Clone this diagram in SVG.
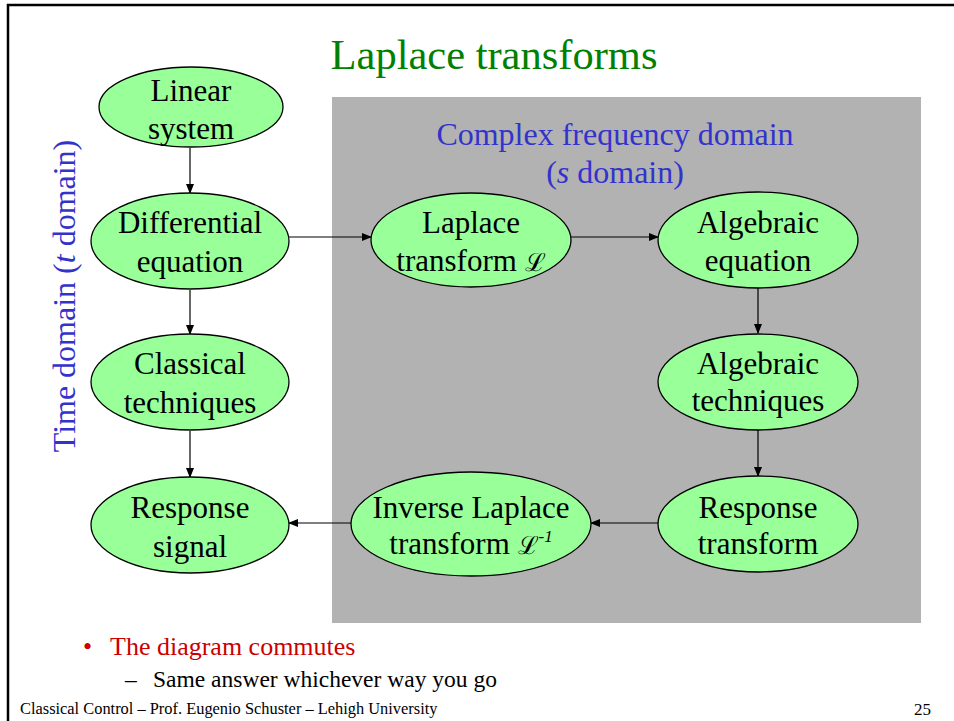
<svg xmlns="http://www.w3.org/2000/svg" width="954" height="721" viewBox="0 0 954 721">
<defs>
<marker id="ah" markerWidth="10" markerHeight="8" refX="9" refY="4" orient="auto" markerUnits="userSpaceOnUse">
<path d="M0,0 L10,4 L0,8 Z" fill="#000"/>
</marker>
<style>
.node ellipse{fill:#99FF99;stroke:#000;stroke-width:1.3}
.node text{font-family:"Liberation Serif","Times New Roman",serif;font-size:31px;fill:#000;text-anchor:middle}
.conn line{stroke:#000;stroke-width:1.2;marker-end:url(#ah)}
.blue{font-family:"Liberation Serif","Times New Roman",serif;fill:#3333CC;font-size:32px;text-anchor:middle}
.scr{font-family:"DejaVu Serif","Liberation Serif",serif;font-size:25px}
</style>
</defs>
<rect x="0" y="0" width="954" height="721" fill="#fff"/>
<path d="M8,721 V5 H954" fill="none" stroke="#000" stroke-width="2.5"/>
<text x="494" y="69" font-family="Liberation Serif,serif" font-size="42.5" fill="#008000" text-anchor="middle">Laplace transforms</text>
<rect x="332" y="97" width="589" height="526" fill="#B2B2B2"/>
<text class="blue" x="615" y="145">Complex frequency domain</text>
<text class="blue" x="615" y="183">(<tspan font-style="italic">s</tspan> domain)</text>
<text class="blue" transform="translate(75,296) rotate(-90)">Time domain (<tspan font-style="italic">t</tspan> domain)</text>
<g class="conn">
<line x1="190" y1="148" x2="190" y2="193"/>
<line x1="190" y1="290" x2="190" y2="334"/>
<line x1="190" y1="431" x2="190" y2="477"/>
<line x1="289" y1="237" x2="371" y2="237"/>
<line x1="571" y1="237" x2="658" y2="237"/>
<line x1="758" y1="288" x2="758" y2="333"/>
<line x1="758" y1="430" x2="758" y2="476"/>
<line x1="659" y1="523" x2="591" y2="523"/>
<line x1="351" y1="523" x2="289" y2="523"/>
</g>
<g id="linear" class="node"><ellipse cx="191" cy="107" rx="92" ry="40"/><text x="191" y="101">Linear</text><text x="191" y="139">system</text></g>
<g id="diffeq" class="node"><ellipse cx="190" cy="241" rx="99" ry="48"/><text x="190" y="233">Differential</text><text x="190" y="272">equation</text></g>
<g id="classical" class="node"><ellipse cx="190" cy="382" rx="99" ry="48"/><text x="190" y="374">Classical</text><text x="190" y="413">techniques</text></g>
<g id="respsignal" class="node"><ellipse cx="190" cy="525" rx="99" ry="48"/><text x="190" y="518">Response</text><text x="190" y="557">signal</text></g>
<g id="laplace" class="node"><ellipse cx="471" cy="240" rx="100" ry="47"/><text x="471" y="233">Laplace</text><text x="471" y="271">transform <tspan class="scr">ℒ</tspan></text></g>
<g id="algeq" class="node"><ellipse cx="758" cy="240" rx="100" ry="48"/><text x="758" y="233">Algebraic</text><text x="758" y="271">equation</text></g>
<g id="algtech" class="node"><ellipse cx="758" cy="382" rx="100" ry="48"/><text x="758" y="374">Algebraic</text><text x="758" y="411">techniques</text></g>
<g id="resptrans" class="node"><ellipse cx="758" cy="524" rx="100" ry="48"/><text x="758" y="518">Response</text><text x="758" y="554">transform</text></g>
<g id="inverse" class="node"><ellipse cx="471" cy="524" rx="120" ry="52"/><text x="471" y="518">Inverse Laplace</text><text x="471" y="554">transform <tspan class="scr">ℒ</tspan><tspan font-style="italic" font-size="17" dy="-12">-1</tspan></text></g>
<text x="83" y="655" font-family="Liberation Serif,serif" font-size="26" fill="#CC0000">•</text>
<text x="110" y="655" font-family="Liberation Serif,serif" font-size="26" fill="#CC0000">The diagram commutes</text>
<text x="125" y="687" font-family="Liberation Serif,serif" font-size="23.5" fill="#000">–</text>
<text x="153" y="687" font-family="Liberation Serif,serif" font-size="23.5" fill="#000">Same answer whichever way you go</text>
<text x="20" y="714" font-family="Liberation Serif,serif" font-size="16.4" fill="#000">Classical Control – Prof. Eugenio Schuster – Lehigh University</text>
<text x="931" y="715" font-family="Liberation Serif,serif" font-size="17" fill="#000" text-anchor="end">25</text>
</svg>
